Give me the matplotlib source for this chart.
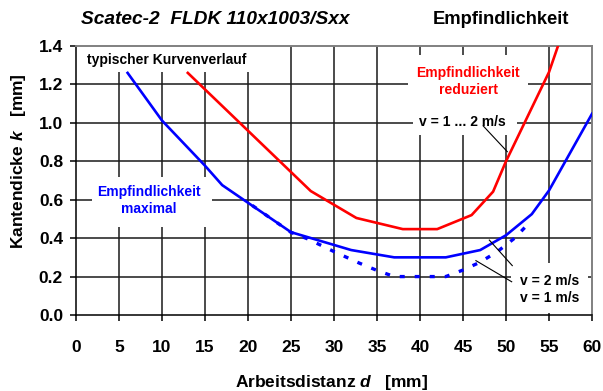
import matplotlib
matplotlib.use("Agg")
import matplotlib.pyplot as plt
from matplotlib.patches import Rectangle
from matplotlib import font_manager

# ---- data ----
red_x = [13, 27.3, 32.6, 38, 42, 46, 48.5, 50, 55, 56.2]
red_y = [1.26, 0.645, 0.505, 0.447, 0.447, 0.52, 0.642, 0.80, 1.264, 1.42]

blue_solid_x = [6, 10, 15, 17, 25, 32, 37, 43, 47, 50, 53, 55, 60]
blue_solid_y = [1.26, 1.012, 0.777, 0.676, 0.431, 0.338, 0.30, 0.30, 0.338, 0.415, 0.525, 0.648, 1.047]

blue_dash_x = [20.5, 25, 27, 30, 33, 35, 37, 43, 45, 47, 49, 51, 52.5]
blue_dash_y = [0.57, 0.43, 0.395, 0.33, 0.269, 0.232, 0.20, 0.20, 0.234, 0.275, 0.33, 0.40, 0.47]

x_ticks = [0, 5, 10, 15, 20, 25, 30, 35, 40, 45, 50, 55, 60]
y_ticks = [0.0, 0.2, 0.4, 0.6, 0.8, 1.0, 1.2, 1.4]
y_tick_labels = ["0.0", "0.2", "0.4", "0.6", "0.8", "1.0", "1.2", "1.4"]

plt.rcParams['font.family'] = ['Liberation Sans', 'DejaVu Sans']
plt.rcParams['mathtext.fontset'] = 'custom'
plt.rcParams['mathtext.bfit'] = 'Liberation Sans:italic:bold'
plt.rcParams['mathtext.it'] = 'Liberation Sans:italic'
plt.rcParams['mathtext.bf'] = 'Liberation Sans:bold'
plt.rcParams['mathtext.rm'] = 'Liberation Sans'

# pick a sans family that really has a bold italic face
italic_family = 'DejaVu Sans'
for fam in ['Liberation Sans', 'Roboto', 'Open Sans', 'Lato', 'Noto Sans', 'Inter']:
    ok = any(f.name == fam and f.style in ('italic', 'oblique') and
             (f.weight in ('bold', 700) or (isinstance(f.weight, int) and f.weight >= 600))
             for f in font_manager.fontManager.ttflist)
    if ok:
        italic_family = fam
        break

fig = plt.figure(figsize=(6.03, 3.91), dpi=100)
ax = fig.add_axes([76/603, 1-315/391, (592-76)/603, (315-46)/391])
ax.set_xlim(0, 60)
ax.set_ylim(0, 1.4)

# grid
for xv in x_ticks[1:-1]:
    ax.axvline(xv, color='#1a1a1a', lw=1.1, zorder=1)
for yv in y_ticks[1:-1]:
    ax.axhline(yv, color='#1a1a1a', lw=1.1, zorder=1)

# white boxes behind annotation texts
boxes = [
    (0.0, 1.265, 22.0, 0.135),
    (1.9, 0.458, 13.9, 0.26),
    (38.6, 1.067, 14.0, 0.286),
    (39.2, 0.937, 12.1, 0.13),
    (50.6, 0.01, 8.9, 0.26),
]
for bx, by, bw, bh in boxes:
    ax.add_patch(Rectangle((bx, by), bw, bh, facecolor='white', edgecolor='none', zorder=2))

# curves
ax.plot(red_x, red_y, color='#ff0000', lw=1.9, zorder=4, clip_on=True)
ax.plot(blue_solid_x, blue_solid_y, color='#0000ff', lw=1.9, zorder=4)
ax.plot(blue_dash_x, blue_dash_y, color='#0000ff', lw=2.4, zorder=4,
        linestyle=(0, (1.5, 3.0)), dash_capstyle='butt')

# annotation texts
fs_a = 10
ax.text(1.3, 1.327, "typischer Kurvenverlauf", fontsize=fs_a, fontweight='bold',
        ha='left', va='center', zorder=5)
ax.text(8.5, 0.595, "Empfindlichkeit\nmaximal", fontsize=fs_a, fontweight='bold',
        color='#0000ff', ha='center', va='center', linespacing=1.25, zorder=5)
ax.text(45.6, 1.215, "Empfindlichkeit\nreduziert", fontsize=fs_a, fontweight='bold',
        color='#ff0000', ha='center', va='center', linespacing=1.25, zorder=5)
ax.text(44.9, 1.005, "v = 1 ... 2 m/s", fontsize=fs_a, fontweight='bold',
        ha='center', va='center', zorder=5)
ax.text(51.6, 0.131, "v = 2 m/s\nv = 1 m/s", fontsize=fs_a, fontweight='bold',
        ha='left', va='center', linespacing=1.25, zorder=5)

# leader lines
ax.plot([47.35, 50.15], [0.984, 0.85], color='black', lw=0.8, zorder=5)
ax.plot([48.06, 50.73], [0.39, 0.257], color='black', lw=0.8, zorder=5)
ax.plot([46.5, 50.66], [0.283, 0.173], color='black', lw=0.8, zorder=5)

# axes styling
ax.set_xticks(x_ticks)
ax.set_xticklabels([str(v) for v in x_ticks])
ax.set_yticks(y_ticks)
ax.set_yticklabels(y_tick_labels)
ax.tick_params(axis='both', direction='out', length=4.3, width=1.1, color='black')
ax.tick_params(axis='x', pad=13.5, labelsize=12.5)
ax.tick_params(axis='y', pad=5, labelsize=12.5)
for lab in ax.get_xticklabels() + ax.get_yticklabels():
    lab.set_fontweight('bold')
ax.spines['left'].set_color('black')
ax.spines['bottom'].set_color('black')
ax.spines['left'].set_linewidth(1.1)
ax.spines['bottom'].set_linewidth(1.1)
ax.spines['top'].set_color('#808080')
ax.spines['right'].set_color('#808080')
ax.spines['top'].set_linewidth(1.4)
ax.spines['right'].set_linewidth(1.4)

# axis labels
fig.text(331.5/603, 1-382/391, r"Arbeitsdistanz $\mathbfit{d}$   [mm]", ha='center', va='center',
         fontsize=12.5, fontweight='bold')
fig.text(19/603, 1-161/391, r"Kantendicke $\mathbfit{k}$   [mm]", ha='center', va='center',
         rotation=90, fontsize=12.5, fontweight='bold')

# titles
fig.text(81/603, 1-19/391, "Scatec-2  FLDK 110x1003/Sxx", ha='left', va='center',
         fontsize=13.8, fontweight='bold', fontstyle='italic', family=[italic_family])
fig.text(432.7/603, 1-19/391, "Empfindlichkeit", ha='left', va='center',
         fontsize=13.2, fontweight='bold')

fig.savefig("out.png", dpi=100)
